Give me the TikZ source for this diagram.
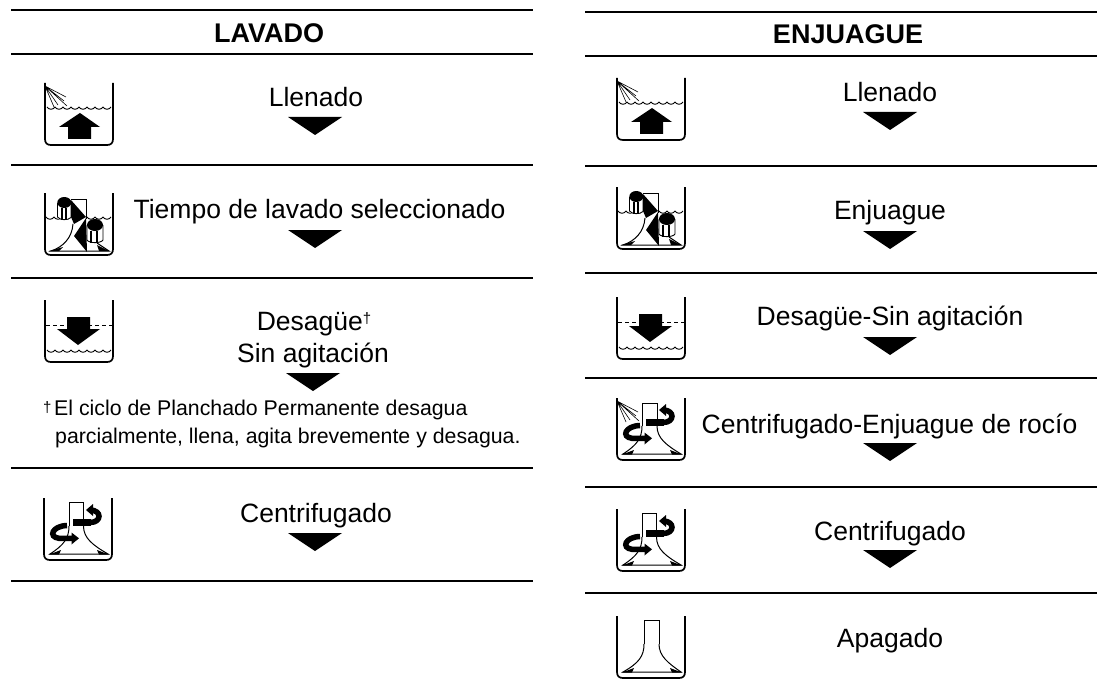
\documentclass[tikz,border=0pt]{standalone}
\usepackage{fontspec}
\setmainfont{Liberation Sans}
\tikzset{
  rulel/.style={line width=1.7pt,black},
  lab/.style={anchor=base,inner sep=0pt,font=\fontsize{26.5}{30}\selectfont,text=black},
  head/.style={anchor=base,inner sep=0pt,font=\fontsize{27}{30}\selectfont\bfseries,text=black},
  foot/.style={anchor=base west,inner sep=0pt,font=\fontsize{21.3}{25}\selectfont,text=black},
  tubl/.style={line width=1.7pt,line join=round},
  thin1/.style={line width=0.9pt},
}
\newcommand{\icTub}{\draw[tubl] (0,0) -- (0,56) .. controls (0,60) and (2,62) .. (6,62) -- (62,62) .. controls (66,62) and (68,60) .. (68,56) -- (68,0);}
\newcommand{\icWaves}[3]{\foreach \k in {0,...,#3}{\draw[thin1] ({#2+\k*8},#1) .. controls ({#2+\k*8+2},{#1+3}) and ({#2+\k*8+6},{#1+3}) .. ({#2+\k*8+8},#1);}}
\newcommand{\icSpray}{\draw[line width=.6pt] (0,3) -- (21,14) (0,3) -- (19,18) (0,3) -- (13,22) (0,3) -- (22,23) (0,3) -- (9,24);}
\newcommand{\icFill}{\icTub\icSpray\icWaves{24}{2}{7}
  \fill (35,30) -- (55,44) -- (46,44) -- (46,56) -- (23,56) -- (23,44) -- (14,44) -- cycle;}
\newcommand{\icDrain}{\icTub\draw[thin1,dash pattern=on 4pt off 3pt] (1,25) -- (67,25);
  \fill (22,17) -- (45,17) -- (45,29) -- (55,29) -- (33,45) -- (12,29) -- (22,29) -- cycle;
  \icWaves{50}{2}{7}}
\newcommand{\icBase}[4]{%
  \draw[line width=1pt] (#1,#3) .. controls (#1,{#3+12}) and ({#1-5},{#3+19}) .. (6,56) -- (64,56) .. controls ({#2+9},{#3+19}) and (#2,{#3+12}) .. (#2,#3);
  \draw[line width=1pt] (#1,#3) -- (#1,#4) -- (#2,#4) -- (#2,#3);
  \fill (5,56.5) -- (17,52) -- (15,56.5) -- cycle (65,56.5) -- (53,52) -- (55,56.5) -- cycle;}
\newcommand{\icSpinArrows}{%
  \draw[line width=7pt] (29,24) -- (47,24);
  \draw[line width=5.5pt] (46,24.5) .. controls (58,24.5) and (58,12) .. (46,12);
  \fill (49,6) -- (49,18) -- (42,12) -- cycle;
  \draw[line width=5.5pt] (23,27.5) .. controls (8,28) and (4,39) .. (15,40.3) -- (29,40.3);
  \fill (27.5,34.5) -- (27.5,46.5) -- (35,40.3) -- cycle;}
\newcommand{\icSpin}{\icTub\icBase{25}{39.5}{28}{4}\icSpinArrows}
\newcommand{\icSpinSpray}{\icTub\icBase{25}{40}{28}{5}\icSpinArrows\icSpray}
\newcommand{\icOff}{\icTub\icBase{27}{42}{28}{4}}
\newcommand{\icAgit}{\icTub
  \icWaves{24}{1}{2}\icWaves{24}{42}{2}
  \draw[line width=1pt] (26,6) -- (41,6) -- (41,26);
  \draw[line width=1pt] (28,31) .. controls (27,45) and (18,54) .. (6,58) -- (64,58) -- (52,50);
  \fill (26,7) -- (41,24) -- (29,31) -- (26,24) -- cycle;
  \fill (41,25) -- (29,43) -- (42,59) -- cycle;
  \fill (4,58) -- (18,54) -- (14,58) -- cycle (64,58) -- (52,52) -- (54,58) -- cycle;
  \fill[white] (12.5,9) rectangle (26,26);
  \fill (19.3,9.5) ellipse[x radius=7,y radius=5.5];
  \draw[line width=.9pt] (12.5,10) -- (12.5,24) .. controls (15,27.5) and (23,27.5) .. (26,24.5) -- (26,10);
  \draw[line width=2pt] (16.5,15) -- (16.5,26.5) (21,15) -- (21,26.5);
  \fill[white] (42,32) rectangle (58,50);
  \fill (50,32) ellipse[x radius=8,y radius=6];
  \draw[line width=.9pt] (42,32) -- (42,47) .. controls (44,50.5) and (56,50.5) .. (58,47) -- (58,32);
  \draw[line width=2pt] (46,38) -- (46,50) (52,38) -- (52,50);}
\newcommand{\icAt}[3]{\begin{scope}[shift={(#1,#2)}]#3\end{scope}}
\newcommand{\tri}[2]{\fill[black] ({#1-27},#2) -- ({#1+27},#2) -- (#1,{#2+18}) -- cycle;}
\begin{document}
\begin{tikzpicture}[x=1pt,y=-1pt]
\useasboundingbox (0,0) rectangle (1099,695);
\fill[white] (0,0) rectangle (1099,695);
% rules
\foreach \y in {10,54,165,278,468,581}{\draw[rulel] (11,\y) -- (533,\y);}
\foreach \y in {12,56,166,273,378,487,593}{\draw[rulel] (585,\y) -- (1097,\y);}
% headings
\node[head] (hl) at (269,43) {LAVADO};
\node[head] (hr) at (848,44) {ENJUAGUE};
% left column
\node[lab] (l1) at (316,107) {Llenado};
\tri{315}{117}
\node[lab] (l2) at (319.5,218) {Tiempo de lavado seleccionado};
\tri{315}{230}
\node[lab] (l3) at (314,330) {Desagüe\raisebox{7pt}{\fontsize{15}{15}\selectfont †}};
\node[lab] (l3b) at (313,362) {Sin agitación};
\tri{313}{373}
\node[foot] (fd) at (43,412) {\fontsize{15}{15}\selectfont †};
\node[foot] (f1) at (54,415) {El ciclo de Planchado Permanente desagua};
\node[foot] (f2) at (55,443) {parcialmente, llena, agita brevemente y desagua.};
\node[lab] (l4) at (316,522) {Centrifugado};
\tri{315}{533}
% right column
\node[lab] (r1) at (890,102) {Llenado};
\tri{890}{112}
\node[lab] (r2) at (890,219) {Enjuague};
\tri{890}{231}
\node[lab] (r3) at (890,325) {Desagüe-Sin agitación};
\tri{890}{337}
\node[lab] (r4) at (889.5,433) {Centrifugado-Enjuague de rocío};
\tri{890}{443}
\node[lab] (r5) at (890,540) {Centrifugado};
\tri{890}{550}
\node[lab] (r6) at (890,647) {Apagado};
% icons
\icAt{45}{83}{\icFill}
\icAt{45}{193}{\icAgit}
\icAt{45}{300}{\icDrain}
\icAt{44}{498}{\icSpin}
\icAt{617}{78}{\icFill}
\icAt{617}{187}{\icAgit}
\icAt{617}{297}{\icDrain}
\icAt{617}{398}{\icSpinSpray}
\icAt{617}{509}{\icSpin}
\icAt{617}{616}{\icOff}
\end{tikzpicture}
\end{document}
